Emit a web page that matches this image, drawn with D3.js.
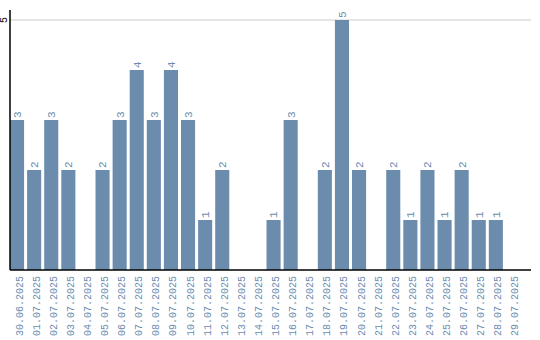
<!DOCTYPE html>
<html>
<head>
<meta charset="utf-8">
<script src="https://cdn.jsdelivr.net/npm/d3@7"></script>
<style>
  body { margin: 0; background: #fff; }
  text { font-family: "Liberation Mono", monospace; }
</style>
</head>
<body>
<div id="chart"></div>
<script>
const dates = ["30.06.2025", "01.07.2025", "02.07.2025", "03.07.2025", "04.07.2025", "05.07.2025",
  "06.07.2025", "07.07.2025", "08.07.2025", "09.07.2025", "10.07.2025", "11.07.2025", "12.07.2025",
  "13.07.2025", "14.07.2025", "15.07.2025", "16.07.2025", "17.07.2025", "18.07.2025", "19.07.2025",
  "20.07.2025", "21.07.2025", "22.07.2025", "23.07.2025", "24.07.2025", "25.07.2025", "26.07.2025",
  "27.07.2025", "28.07.2025", "29.07.2025"];
const counts = [3, 2, 3, 2, 0, 2, 3, 4, 3, 4, 3, 1, 2, 0, 0, 1, 3, 0, 2, 5, 2, 0, 2, 1, 2, 1, 2, 1, 1, 0];
const yTicks = [5];

var width = 540;
var height = 340;
var barColor = "#6b8cad";
var textColor = "#6a8caf";

var svg = d3.select("#chart").append("svg")
  .attr("width", width)
  .attr("height", height);

var plotLeft = 10, plotRight = 531, plotTop = 10, plotBase = 270;

var x = d3.scaleBand()
  .domain(dates)
  .range([plotLeft, plotLeft + 17 * dates.length])
  .paddingInner(3 / 17)
  .paddingOuter(0);

var y = d3.scaleLinear()
  .domain([0, 5.2])
  .range([plotBase, plotTop]);

// grid line
svg.selectAll(".grid")
  .data(yTicks)
  .enter()
  .append("line")
  .attr("x1", plotLeft)
  .attr("x2", plotRight)
  .attr("y1", d => y(d))
  .attr("y2", d => y(d))
  .attr("stroke", "#cccccc")
  .attr("stroke-width", 1);

// bars
svg.selectAll(".bar")
  .data(dates)
  .enter()
  .append("rect")
  .attr("x", d => x(d))
  .attr("y", (d, i) => y(counts[i]))
  .attr("width", x.bandwidth())
  .attr("height", (d, i) => plotBase - y(counts[i]))
  .attr("fill", barColor);

// value labels
svg.selectAll(".val")
  .data(dates.filter((d, i) => counts[i] > 0))
  .enter()
  .append("text")
  .attr("transform", d => {
    var i = dates.indexOf(d);
    return "translate(" + (x(d) + x.bandwidth() / 2) + "," + (y(counts[i]) - 2) + ") rotate(-90)";
  })
  .attr("dy", "0.35em")
  .attr("text-anchor", "start")
  .attr("fill", textColor)
  .style("font-size", "11px")
  .text(d => counts[dates.indexOf(d)]);

// date labels
svg.selectAll(".date")
  .data(dates)
  .enter()
  .append("text")
  .attr("transform", d => "translate(" + (x(d) + x.bandwidth() / 2) + "," + (plotBase + 6) + ") rotate(-90)")
  .attr("dy", "0.55em")
  .attr("text-anchor", "end")
  .attr("fill", textColor)
  .style("font-size", "10px")
  .text(d => d);

// axes
svg.append("line")
  .attr("x1", plotLeft).attr("x2", plotLeft)
  .attr("y1", plotTop).attr("y2", plotBase)
  .attr("stroke", "#000").attr("stroke-width", 1.5);
svg.append("line")
  .attr("x1", plotLeft).attr("x2", plotRight)
  .attr("y1", plotBase).attr("y2", plotBase)
  .attr("stroke", "#000").attr("stroke-width", 1.5);

svg.selectAll(".ytick")
  .data(yTicks)
  .enter()
  .append("text")
  .attr("transform", d => "translate(" + (plotLeft - 3) + "," + y(d) + ") rotate(-90)")
  .attr("text-anchor", "middle")
  .attr("fill", "#000")
  .style("font-size", "10px")
  .text(d => d);
</script>
</body>
</html>
